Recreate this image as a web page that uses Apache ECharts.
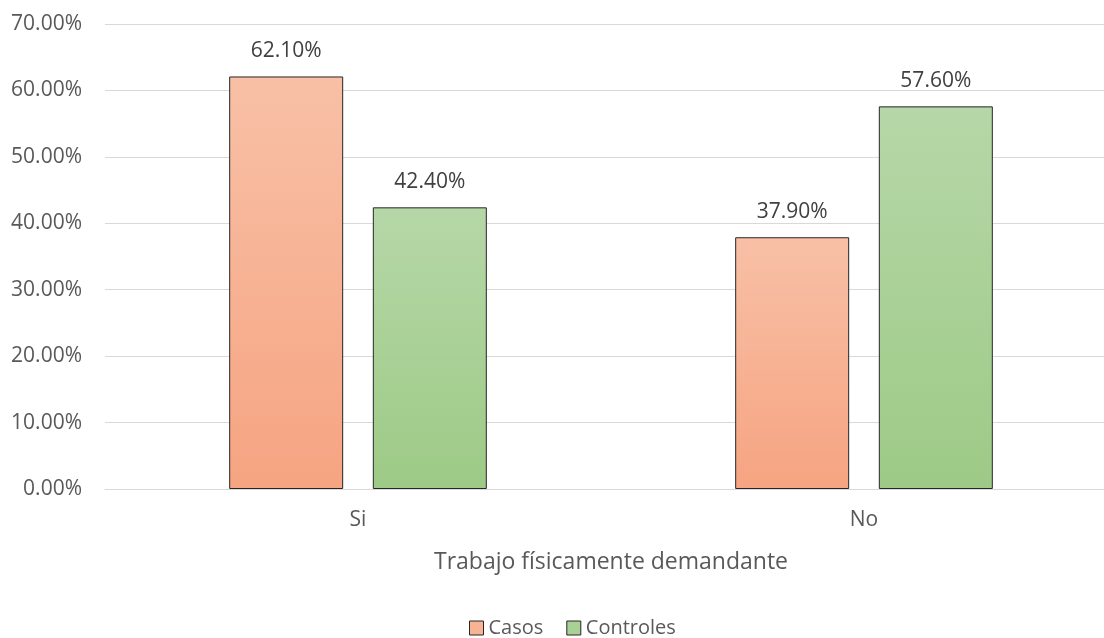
<!DOCTYPE html>
<html>
<head>
<meta charset="utf-8">
<script src="https://cdn.jsdelivr.net/npm/echarts@6/dist/echarts.min.js"></script>
<style>html,body{margin:0;padding:0;background:#fff}#c{width:1104px;height:638px}</style>
</head>
<body>
<div id="c"></div>
<script>
const categories = ["Si", "No"];
const casos = [62.1, 37.9];
const controles = [42.4, 57.6];
const yTicks = [0, 10, 20, 30, 40, 50, 60, 70];
const seriesNames = ["Casos", "Controles"];

const FONT = "Open Sans";
const chart = echarts.init(document.getElementById('c'));
function grad(top, bottom) {
  return new echarts.graphic.LinearGradient(0, 0, 0, 1, [
    {offset: 0, color: top}, {offset: 1, color: bottom}
  ]);
}
const orange = grad('#F8C0A6', '#F6A481');
const green = grad('#B6D7A8', '#9DCA86');
const lbl = {
  show: true, position: 'top', distance: 15,
  color: '#404040', fontSize: 21, fontFamily: FONT,
  formatter: p => p.value.toFixed(2) + '%'
};
chart.setOption({
  animation: false,
  textStyle: {fontFamily: FONT},
  grid: {left: 105, width: 1012, top: 24, bottom: 149, containLabel: false, outerBoundsMode: 'none'},
  legend: {
    top: 613, left: 464, itemWidth: 14, itemHeight: 14, itemGap: 23,
    icon: 'rect',
    textStyle: {fontSize: 20, color: '#595959', fontFamily: FONT},
    data: [
      {name: seriesNames[0], itemStyle: {color: '#F7B394', borderColor: '#262626', borderWidth: 1}},
      {name: seriesNames[1], itemStyle: {color: '#A9D196', borderColor: '#262626', borderWidth: 1}}
    ]
  },
  xAxis: {
    type: 'category', data: categories,
    name: 'Trabajo físicamente demandante', nameLocation: 'middle', nameGap: 62,
    nameTextStyle: {fontSize: 23, color: '#595959', fontFamily: FONT},
    axisLine: {show: true, lineStyle: {color: '#D9D9D9', width: 1}},
    axisTick: {show: false},
    axisLabel: {fontSize: 21, color: '#595959', margin: 21, fontFamily: FONT}
  },
  yAxis: {
    type: 'value', min: 0, max: 70, interval: 10,
    axisLine: {show: false}, axisTick: {show: false},
    axisLabel: {fontSize: 21, color: '#595959', margin: 23, fontFamily: FONT,
      formatter: v => v.toFixed(2) + '%'},
    splitLine: {lineStyle: {color: '#D9D9D9', width: 1}}
  },
  series: [
    {name: seriesNames[0], type: 'bar', data: casos, barWidth: 114, barGap: '26%',
     itemStyle: {color: orange, borderColor: '#262626', borderWidth: 1}, label: lbl},
    {name: seriesNames[1], type: 'bar', data: controles, barWidth: 114,
     itemStyle: {color: green, borderColor: '#262626', borderWidth: 1}, label: lbl}
  ]
});
</script>
</body>
</html>
